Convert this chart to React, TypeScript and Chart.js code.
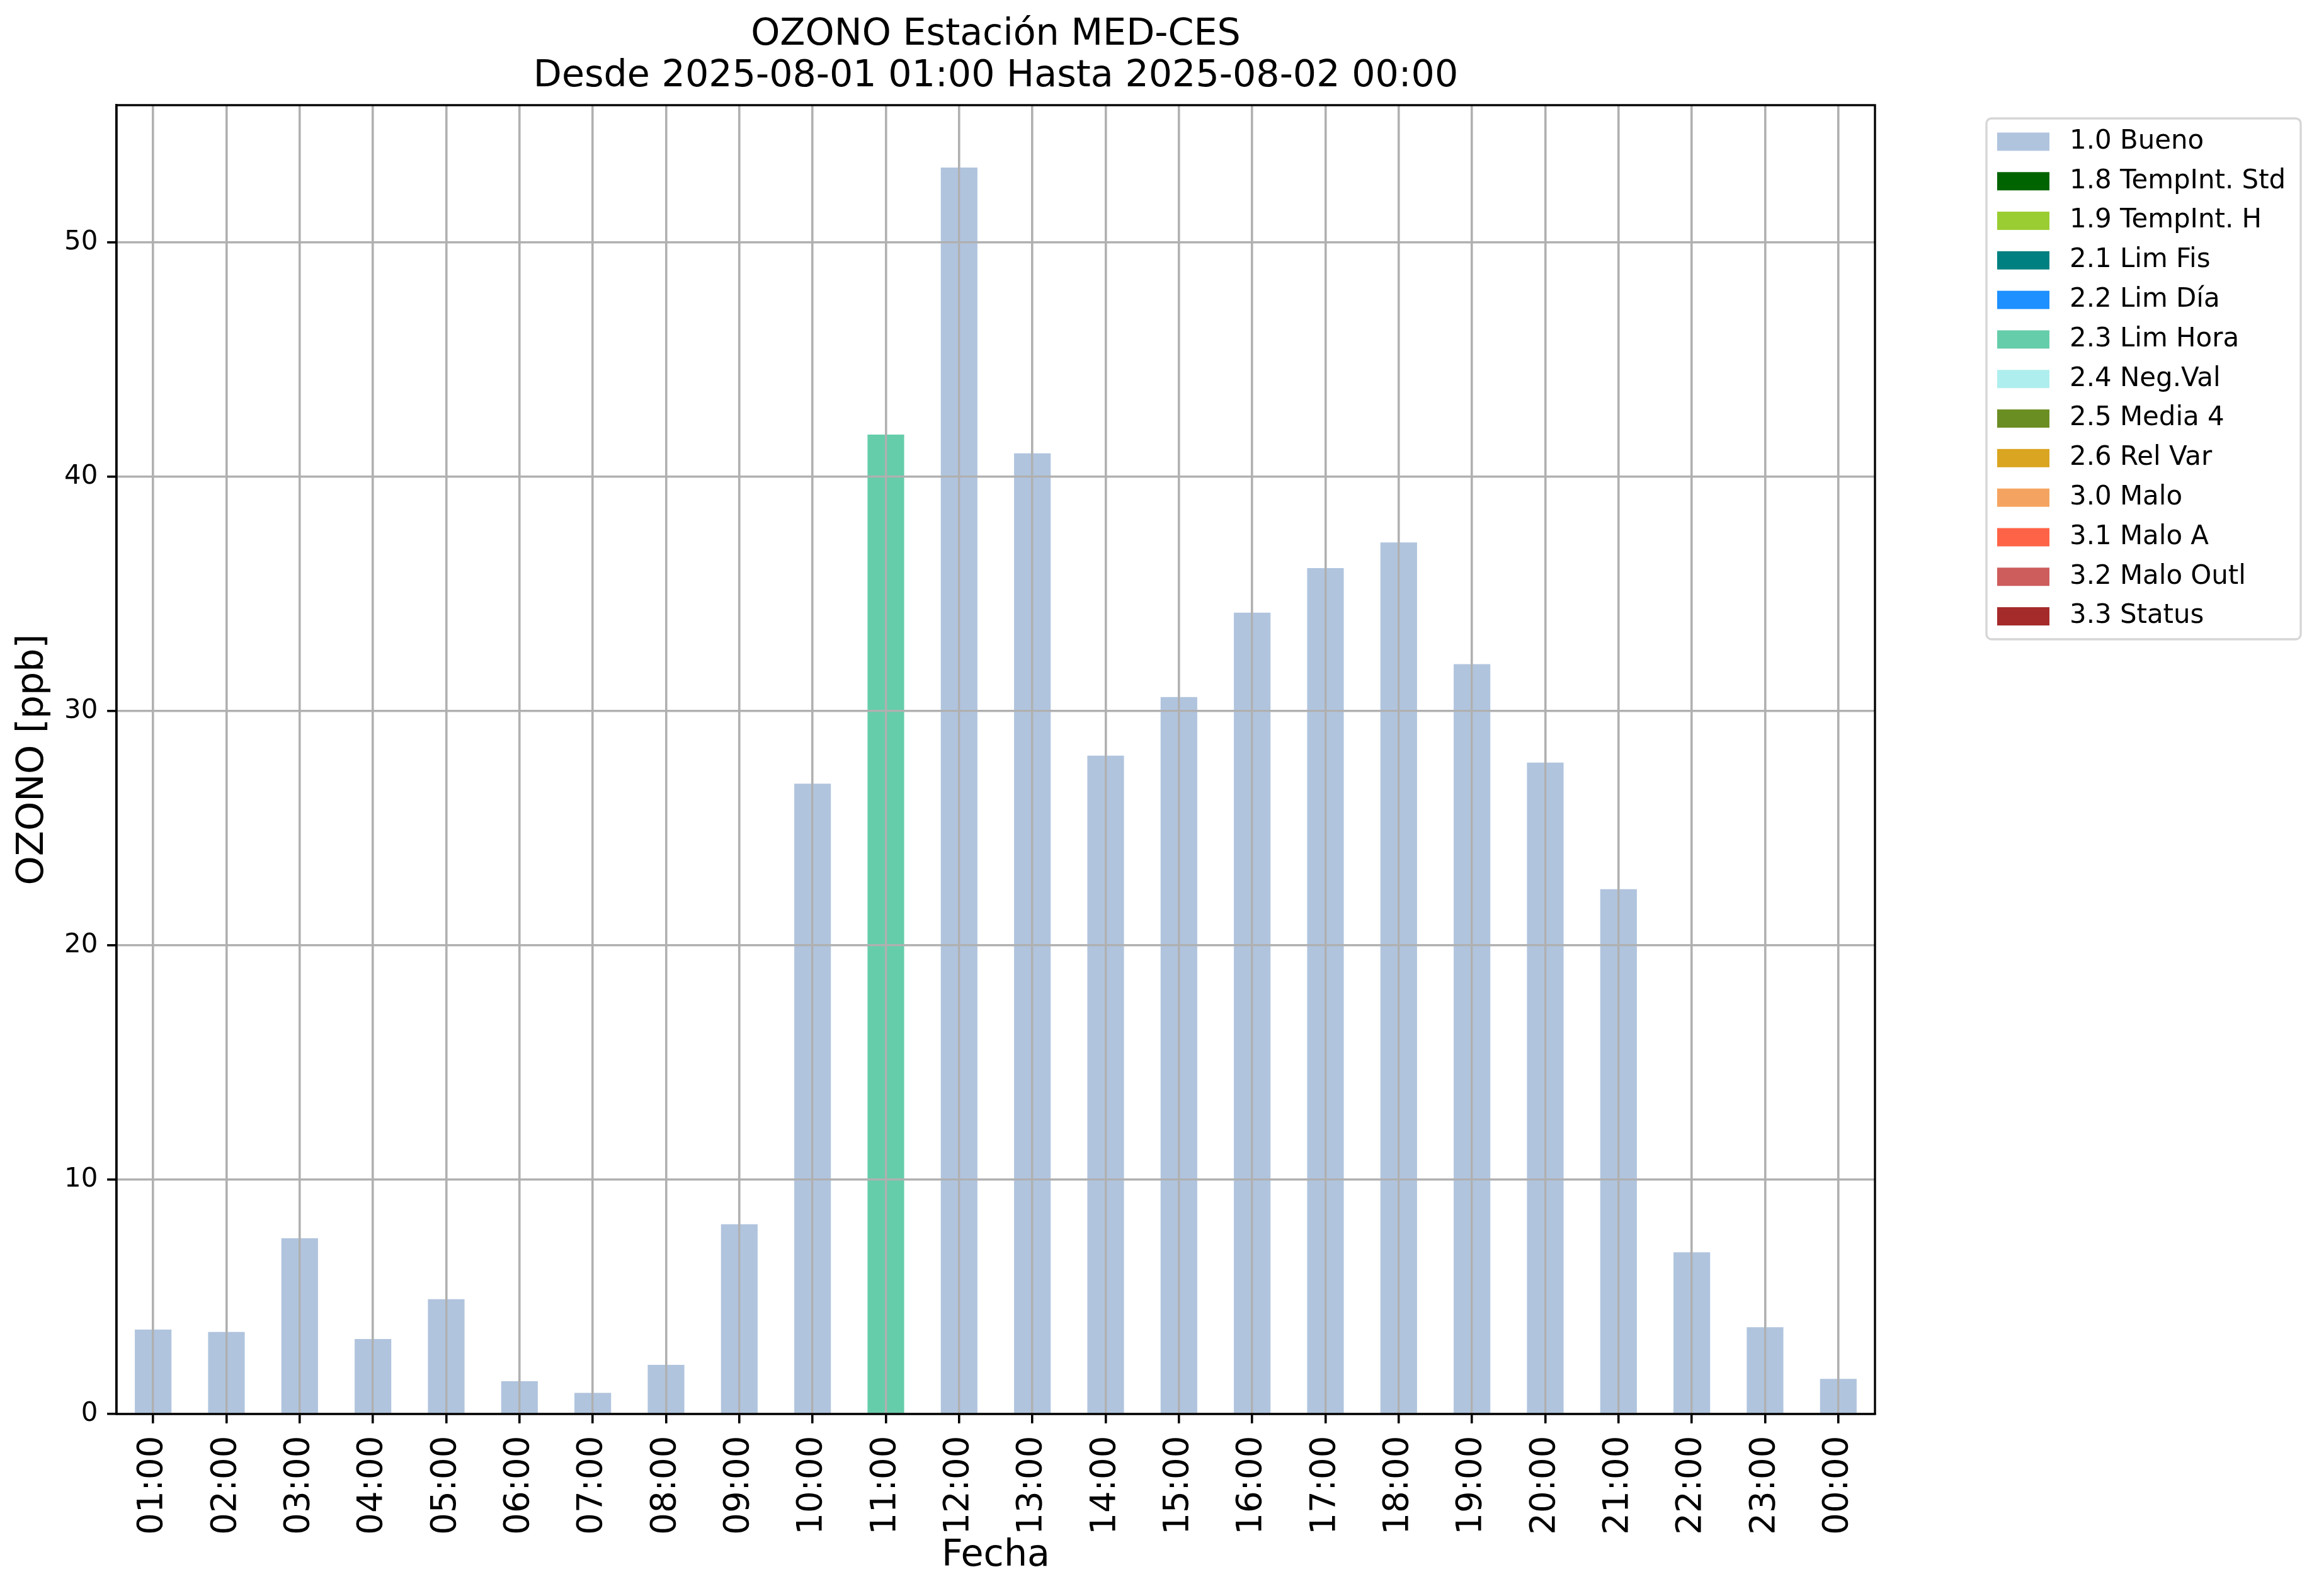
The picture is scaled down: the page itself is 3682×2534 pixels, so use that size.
import React, { useEffect, useRef } from "react";
import { Chart, registerables } from "chart.js";

Chart.register(...registerables);

// ---------- data ----------
const hours = [
  "01:00", "02:00", "03:00", "04:00", "05:00", "06:00", "07:00", "08:00",
  "09:00", "10:00", "11:00", "12:00", "13:00", "14:00", "15:00", "16:00",
  "17:00", "18:00", "19:00", "20:00", "21:00", "22:00", "23:00", "00:00",
];

const ozono = [
  3.6, 3.5, 7.5, 3.2, 4.9, 1.4, 0.9, 2.1, 8.1, 26.9, 41.8, 53.2,
  41.0, 28.1, 30.6, 34.2, 36.1, 37.2, 32.0, 27.8, 22.4, 6.9, 3.7, 1.5,
];

const hourFlags = [
  "1.0", "1.0", "1.0", "1.0", "1.0", "1.0", "1.0", "1.0", "1.0", "1.0", "2.3", "1.0",
  "1.0", "1.0", "1.0", "1.0", "1.0", "1.0", "1.0", "1.0", "1.0", "1.0", "1.0", "1.0",
];

const flagCodes = ["1.0", "1.8", "1.9", "2.1", "2.2", "2.3", "2.4", "2.5", "2.6", "3.0", "3.1", "3.2", "3.3"];
const flagNames = [
  "Bueno", "TempInt. Std", "TempInt. H", "Lim Fis", "Lim Día", "Lim Hora",
  "Neg.Val", "Media 4", "Rel Var", "Malo", "Malo A", "Malo Outl", "Status",
];
const flagColors = [
  "#b0c4de", "#006400", "#9acd32", "#008080", "#1e90ff", "#66cdaa",
  "#afeeee", "#6b8e23", "#daa520", "#f4a460", "#ff6347", "#cd5c5c", "#a52a2a",
];

const titleLines = ["OZONO Estación MED-CES", "Desde 2025-08-01 01:00 Hasta 2025-08-02 00:00"];
const xTitle = "Fecha";
const yTitle = "OZONO [ppb]";

// ---------- style ----------
const FONT = "'DejaVu Sans', 'Liberation Sans', sans-serif";
const W = 3682;
const H = 2534;
const LW = 3.36;

const frameAndGridOnTop = {
  id: "frameAndGridOnTop",
  afterDatasetsDraw(chart: any) {
    const { ctx, chartArea, scales } = chart;
    scales.x.drawGrid(chartArea);
    scales.y.drawGrid(chartArea);
    ctx.save();
    ctx.strokeStyle = "#000";
    ctx.lineWidth = LW;
    ctx.strokeRect(chartArea.left, chartArea.top, chartArea.right - chartArea.left, chartArea.bottom - chartArea.top);
    ctx.restore();
  },
};

const boxLegend = {
  id: "boxLegend",
  afterDraw(chart: any) {
    const { ctx, chartArea } = chart;
    const left = chartArea.right + 177;
    const top = chartArea.top + 21;
    const w = 499;
    const h = 827;
    const r = 8;
    ctx.save();
    ctx.fillStyle = "rgba(255,255,255,0.8)";
    ctx.strokeStyle = "#d6d6d6";
    ctx.lineWidth = LW;
    ctx.beginPath();
    ctx.roundRect(left, top, w, h, r);
    ctx.fill();
    ctx.stroke();
    ctx.font = `41.9px ${FONT}`;
    ctx.textBaseline = "middle";
    ctx.textAlign = "left";
    chart.data.datasets.forEach((ds: any, i: number) => {
      const cy = top + 37 + i * 62.8;
      ctx.fillStyle = ds.backgroundColor;
      ctx.fillRect(left + 17, cy - 14.5, 83, 29);
      ctx.fillStyle = "#000";
      ctx.fillText(ds.label, left + 132, cy);
    });
    ctx.restore();
  },
};

export default function App() {
  const ref = useRef<HTMLCanvasElement | null>(null);

  useEffect(() => {
    if (!ref.current) return;
    Chart.defaults.color = "#000";
    Chart.defaults.font.family = FONT;

    const datasets = flagCodes.map((code, k) => ({
      label: `${code} ${flagNames[k]}`,
      data: ozono.map((v, i) => (hourFlags[i] === code ? v : null)),
      backgroundColor: flagColors[k],
      borderWidth: 0,
      barPercentage: 0.5,
      categoryPercentage: 1.0,
    }));

    const yMax = Math.max(...ozono) * 1.05;

    const chart = new Chart(ref.current, {
      type: "bar",
      data: { labels: hours, datasets },
      options: {
        responsive: false,
        animation: false,
        devicePixelRatio: 1,
        layout: { padding: { left: 0, right: 705, top: 0, bottom: 0 } },
        plugins: {
          legend: { display: false },
          tooltip: { enabled: false },
          title: {
            display: true,
            text: titleLines,
            fullSize: false,
            color: "#000",
            font: { family: FONT, size: 58.7, weight: "normal", lineHeight: 1.124 },
            padding: { top: 22.7, bottom: 12.3 },
          },
        },
        scales: {
          x: {
            stacked: true,
            offset: true,
            grid: {
              offset: false,
              color: "#b0b0b0",
              lineWidth: LW,
              tickColor: "#000",
              tickLength: 14.7,
              tickWidth: LW,
            },
            border: { display: true, color: "#000", width: LW },
            ticks: {
              autoSkip: false,
              minRotation: 90,
              maxRotation: 90,
              padding: 20,
              color: "#000",
              font: { family: FONT, size: 54.5 },
            },
            title: {
              display: true,
              text: xTitle,
              color: "#000",
              font: { family: FONT, size: 58.7 },
              padding: { top: 0, bottom: 28 },
            },
            afterFit: (s: any) => {
              s.height = 289;
            },
          },
          y: {
            stacked: true,
            min: 0,
            max: yMax,
            grid: {
              color: "#b0b0b0",
              lineWidth: LW,
              tickColor: "#000",
              tickLength: 14.7,
              tickWidth: LW,
            },
            border: { display: true, color: "#000", width: LW },
            ticks: {
              stepSize: 10,
              includeBounds: false,
              padding: 15,
              color: "#000",
              font: { family: FONT, size: 41.9 },
            },
            title: {
              display: true,
              text: yTitle,
              color: "#000",
              font: { family: FONT, size: 58.7 },
              padding: { top: 18, bottom: 0 },
            },
            afterFit: (s: any) => {
              s.width = 185;
            },
          },
        },
      } as any,
      plugins: [frameAndGridOnTop, boxLegend],
    });

    return () => chart.destroy();
  }, []);

  return (
    <div style={{ position: "absolute", left: 0, top: 0, width: W, height: H, background: "#fff" }}>
      <canvas ref={ref} width={W} height={H} style={{ display: "block", width: W, height: H }} />
    </div>
  );
}
